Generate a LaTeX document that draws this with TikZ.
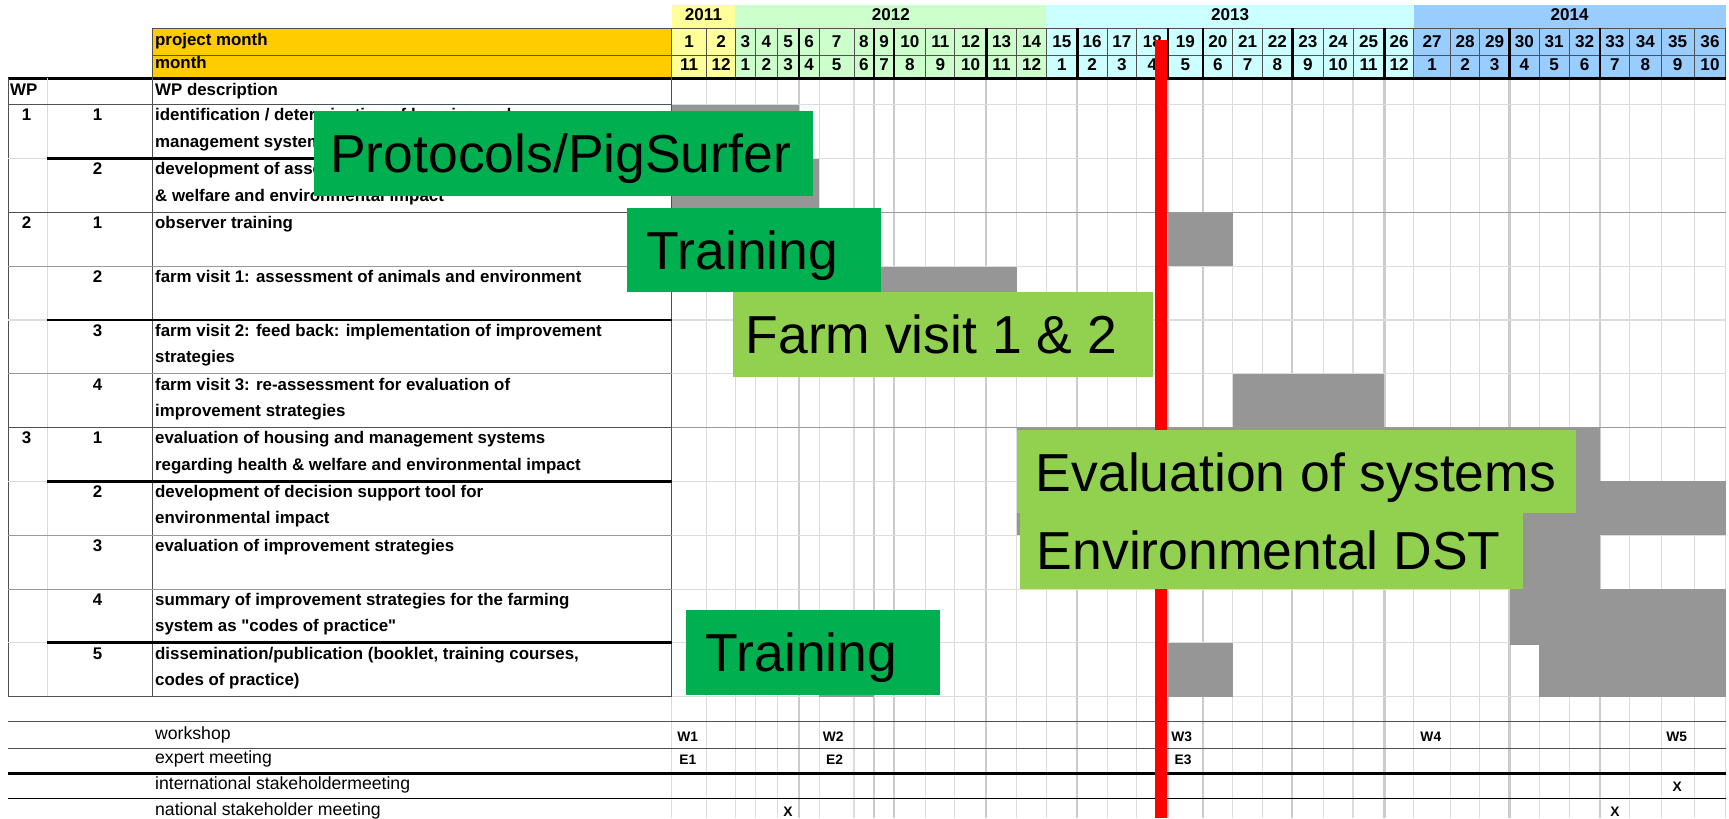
\documentclass[tikz,border=0pt]{standalone}
\usepackage{fontspec}
\setmainfont{Liberation Sans}[Ligatures=TeXOff]
\definecolor{gbar}{HTML}{969696}
\definecolor{dkgreen}{HTML}{00B050}
\definecolor{ltgreen}{HTML}{92D050}
\definecolor{yorange}{HTML}{FFCC00}
\definecolor{yA}{HTML}{FFFF99}
\definecolor{yB}{HTML}{CCFFCC}
\definecolor{yC}{HTML}{CCFFFF}
\definecolor{yD}{HTML}{99CCFF}
\definecolor{gridgray}{HTML}{DCDCDC}
\definecolor{gridgrayB}{HTML}{CCCCCC}
\definecolor{midgray}{HTML}{9A9A9A}
\definecolor{dkline}{HTML}{505050}
\newcommand\wprowx[6]{%
  \node[numtxt] (#1wp) at (24,#2+14.7) {#3};
  \node[numtxt] (#1sub) at (88.5,#2+14.7) {#4};
  \node[tabtxt] (#1a) at (140.5,#2+14.7) {#5};
  \node[tabtxt] (#1b) at (140.5,#2+38.5) {#6};
}
\begin{document}
\begin{tikzpicture}[x=1pt,y=-1pt,
  tabtxt/.style={font=\fontsize{15.3}{18}\selectfont\bfseries,anchor=base west,inner sep=0pt},
  numtxt/.style={font=\fontsize{15.3}{18}\selectfont\bfseries,anchor=base,inner sep=0pt},
  hdrtxt/.style={font=\fontsize{15.5}{18}\selectfont\bfseries,anchor=base,inner sep=0pt},
  lowtxt/.style={font=\fontsize{16}{18}\selectfont,anchor=base west,inner sep=0pt},
  marktxt/.style={font=\fontsize{12.5}{14}\selectfont\bfseries,anchor=base west,inner sep=0pt},
  markc/.style={font=\fontsize{12.5}{14}\selectfont\bfseries,anchor=base,inner sep=0pt},
  bigtxt/.style={font=\fontsize{48.5}{56}\selectfont,anchor=base west,inner sep=0pt},
  bar/.style={fill=gbar},
  gridln/.style={draw=gridgray,line width=1pt},
  gridthk/.style={draw=gridgrayB,line width=2pt},
  dkln/.style={draw=dkline,line width=1pt},
  lgln/.style={draw=gridgray,line width=1pt},
  mdln/.style={draw=midgray,line width=1pt},
  thkln/.style={draw=black,line width=2.5pt},
  hthin/.style={draw=dkline,line width=0.9pt},
  hthick/.style={draw=black,line width=2.2pt}
]
\useasboundingbox (0,0) rectangle (1568,742);
\fill[white] (0,0) rectangle (1568,742);

% ---------- header fills ----------
\fill[yA] (609,4.5) rectangle (667,71);
\fill[yB] (667,4.5) rectangle (949,71);
\fill[yC] (949,4.5) rectangle (1282,71);
\fill[yD] (1282,4.5) rectangle (1565,71);
\fill[yorange] (138,25.7) rectangle (609,71);

% ---------- chart grid ----------
\foreach \x in {641,667,685,705,743,774.5,839.5,866,922,949,1004,1031,1118,1145,1200,1227,1282,1315.5,1342,1396,1423,1478,1506.5,1536.5,1565}
  \draw[gridln] (\x,71) -- (\x,742);
\foreach \x in {724.5,792.5,811,894.5,977,1059,1091,1172,1255.5,1369,1451}
  \draw[gridthk] (\x,71) -- (\x,742);
\draw[gridln] (609,632) -- (609,742);
\foreach \y in {95,143.8,241.4,290.2,339,436.6,485.4,534.2,583,632}
  \draw[lgln] (609,\y) -- (1565,\y);
\foreach \y in {192.6,387.8}
  \draw[mdln] (609,\y) -- (1565,\y);

% ---------- gray bars ----------
\fill[bar] (609,95.5) rectangle (724.5,143.8);
\fill[bar] (609,143.8) rectangle (743,192.6);
\fill[bar] (1059,193) rectangle (1118,241);
\fill[bar] (743,241.8) rectangle (922,290.2);
\fill[bar] (1118,339.5) rectangle (1255.5,387.5);
\fill[bar] (922,388.2) rectangle (1451,436.6);
\fill[bar] (922,436.6) rectangle (1565,485.4);
\fill[bar] (1200,485.4) rectangle (1451,534.2);
\fill[bar] (1369,534.2) rectangle (1565,585);
\fill[bar] (743,583.4) rectangle (792.5,632);
\fill[bar] (1059,583.4) rectangle (1118,632);
\fill[bar] (1396,583.4) rectangle (1565,632);

% ---------- header lines ----------
\draw[hthin] (138,25.7) -- (1565,25.7);
\draw[hthin] (138,49.9) -- (1565,49.9);
\foreach \x in {641,667,685,705,743,774.5,839.5,866,922,949,1004,1031,1118,1145,1200,1227,1282,1315.5,1342,1396,1423,1478,1506.5,1536.5,1565}
  \draw[hthin] (\x,25.7) -- (\x,71);
\foreach \x in {724.5,792.5,811,894.5,977,1059,1091,1172,1255.5,1369,1451}
  \draw[hthick] (\x,25.7) -- (\x,71);
\draw[thkln] (7.5,71) -- (1565,71);

% ---------- left table lines ----------
\draw[dkln] (7.5,71) -- (7.5,632);
\draw[lgln] (43,71) -- (43,632);
\draw[dkln] (138,25.7) -- (138,632);
\draw[dkln] (609,25.7) -- (609,632);
\foreach \y in {95,192.6,387.8,632}
  \draw[dkln] (7.5,\y) -- (609,\y);
\foreach \y in {241.4,339,485.4,534.2}
  \draw[mdln] (7.5,\y) -- (609,\y);
\foreach \y in {143.8,290.2,436.6,583}{
  \draw[lgln] (7.5,\y) -- (43,\y);
  \draw[thkln] (43,\y) -- (609,\y);
}

% ---------- bottom section lines ----------
\draw[draw=dkline,line width=1pt] (7.5,654.5) -- (1565,654.5);
\draw[draw=dkline,line width=1pt] (7.5,678.6) -- (1565,678.6);
\draw[thkln] (7.5,701.3) -- (1565,701.3);
\draw[draw=black,line width=1pt] (7.5,724) -- (1565,724);

% ---------- header texts ----------
\node[hdrtxt] (y2011) at (638,18.5) {2011};
\node[hdrtxt] (y2012) at (808,18.5) {2012};
\node[hdrtxt] (y2013) at (1115.5,18.5) {2013};
\node[hdrtxt] (y2014) at (1423.5,18.5) {2014};
\node[tabtxt] (pmlbl) at (140.5,41.5) {project month};
\node[tabtxt] (molbl) at (140.5,62.5) {month};
\foreach \l/\r/\p/\m in {609/641/1/11, 641/667/2/12, 667/685/3/1, 685/705/4/2, 705/724.5/5/3, 724.5/743/6/4, 743/774.5/7/5, 774.5/792.5/8/6, 792.5/811/9/7, 811/839.5/10/8, 839.5/866/11/9, 866/894.5/12/10, 894.5/922/13/11, 922/949/14/12, 949/977/15/1, 977/1004/16/2, 1004/1031/17/3, 1031/1059/18/4, 1059/1091/19/5, 1091/1118/20/6, 1118/1145/21/7, 1145/1172/22/8, 1172/1200/23/9, 1200/1227/24/10, 1227/1255.5/25/11, 1255.5/1282/26/12, 1282/1315.5/27/1, 1315.5/1342/28/2, 1342/1369/29/3, 1369/1396/30/4, 1396/1423/31/5, 1423/1451/32/6, 1451/1478/33/7, 1478/1506.5/34/8, 1506.5/1536.5/35/9, 1536.5/1565/36/10}{
  \node[hdrtxt] (pm\p) at ({(\l+\r)/2},43.5) {\p};
  \node[hdrtxt] (mo\p) at ({(\l+\r)/2},63.5) {\m};
}

% ---------- table texts ----------
\node[tabtxt] (wphead) at (9,87) {WP};
\node[tabtxt] (wpdesc) at (140.5,87) {WP description};
\wprowx{ra}{95}{1}{1}{identification / determination of housing and}{management systems}
\wprowx{rb}{143.8}{}{2}{development of assessment protocols for health}{\& welfare and environmental impact}
\wprowx{rc}{192.6}{2}{1}{observer training}{}
\wprowx{rd}{241.4}{}{2}{farm visit 1: assessment of animals and environment}{}
\wprowx{re}{290.2}{}{3}{farm visit 2: feed back: implementation of improvement}{strategies}
\wprowx{rf}{339}{}{4}{farm visit 3: re-assessment for evaluation of}{improvement strategies}
\wprowx{rg}{387.8}{3}{1}{evaluation of housing and management systems}{regarding health \& welfare and environmental impact}
\wprowx{rh}{436.6}{}{2}{development of decision support tool for}{environmental impact}
\wprowx{ri}{485.4}{}{3}{evaluation of improvement strategies}{}
\wprowx{rj}{534.2}{}{4}{summary of improvement strategies for the farming}{system as "codes of practice"}
\wprowx{rk}{583}{}{5}{dissemination/publication (booklet, training courses,}{codes of practice)}

% ---------- bottom texts ----------
\node[lowtxt] (lws) at (140.5,671) {workshop};
\node[lowtxt] (lem) at (140.5,692) {expert meeting};
\node[lowtxt] (lism) at (140.5,716) {international stakeholdermeeting};
\node[lowtxt] (lnsm) at (140.5,739.5) {national stakeholder meeting};
\node[marktxt] (w1) at (614,672.5) {W1};
\node[marktxt] (w2) at (746,672.5) {W2};
\node[marktxt] (w3) at (1062,672.5) {W3};
\node[marktxt] (w4) at (1288,672.5) {W4};
\node[marktxt] (w5) at (1511,672.5) {W5};
\node[marktxt] (e1) at (616,693) {E1};
\node[marktxt] (e2) at (749,693) {E2};
\node[marktxt] (e3) at (1065,693) {E3};
\node[markc] (xi) at (1521,718) {X};
\node[markc] (xna) at (714.5,740.5) {X};
\node[markc] (xnb) at (1464.5,740.5) {X};

% ---------- red line ----------
\fill[red] (1047,36) rectangle (1058.5,742);

% ---------- big labels ----------
\fill[dkgreen] (285,100.7) rectangle (737.2,177.7);
\node[bigtxt] (lprot) at (299.3,156.6) {Protocols/PigSurfer};
\fill[dkgreen] (568.7,189) rectangle (799,265.1);
\node[bigtxt] (ltrain) at (586.5,244.6) {Training};
\fill[ltgreen] (664.6,265.1) rectangle (1046,341.6);
\node[bigtxt] (lfarm) at (676,321) {Farm visit 1 \& 2};
\fill[ltgreen] (922.6,390) rectangle (1429.6,465.5);
\node[bigtxt] (leval) at (939.2,445.5) {Evaluation of systems};
\fill[ltgreen] (925,465.5) rectangle (1381,534);
\node[bigtxt] (lenv) at (940.2,516.5) {Environmental DST};
\fill[dkgreen] (622,553) rectangle (852.2,630);
\node[bigtxt] (ltrainb) at (640,608.9) {Training};
\end{tikzpicture}
\end{document}
